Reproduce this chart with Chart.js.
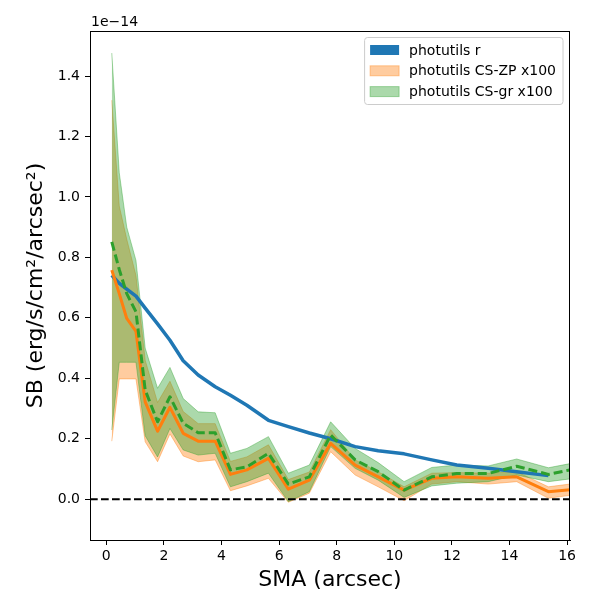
<!DOCTYPE html>
<html lang="en">
<head>
<meta charset="UTF-8">
<title>SB profile</title>
<script src="https://cdn.jsdelivr.net/npm/chart.js"></script>
<style>
  html, body { margin: 0; padding: 0; background: #fff; }
</style>
</head>
<body>
<canvas id="sbChart" width="600" height="600"></canvas>
<script>
// semi-major axis (arcsec)
const sma = [0.19, 0.45, 0.71, 1.03, 1.35, 1.78, 2.21, 2.67, 3.19, 3.78, 4.31, 4.88, 5.63,
             6.32, 7.05, 7.79, 8.64, 9.44, 10.34, 11.30, 12.17, 13.26, 14.25, 15.35, 16.5];

// surface brightness, units of 1e-14 erg/s/cm2/arcsec2
const sbR = [0.741, 0.714, 0.695, 0.672, 0.632, 0.580, 0.526, 0.458, 0.411, 0.372, 0.344, 0.311, 0.261,
             0.240, 0.219, 0.200, 0.174, 0.160, 0.150, 0.130, 0.113, 0.102, 0.091, 0.078, null];

const sbZP = [0.758, 0.680, 0.598, 0.555, 0.322, 0.225, 0.304, 0.218, 0.192, 0.192, 0.082, 0.097, 0.135,
              0.033, 0.063, 0.185, 0.113, 0.074, 0.030, 0.069, 0.074, 0.069, 0.074, 0.025, 0.035];
const sbZPhi = [1.32, 0.97, 0.86, 0.74, 0.46, 0.32, 0.39, 0.29, 0.25, 0.25, 0.125, 0.14, 0.18,
                0.065, 0.09, 0.23, 0.130, 0.091, 0.041, 0.086, 0.088, 0.086, 0.091, 0.041, 0.055];
const sbZPlo = [0.192, 0.398, 0.398, 0.398, 0.19, 0.124, 0.216, 0.143, 0.124, 0.130, 0.028, 0.044, 0.069,
                -0.010, 0.020, 0.157, 0.080, 0.041, -0.005, 0.050, 0.058, 0.050, 0.058, 0.003, 0.018];

const sbGR = [0.851, 0.76, 0.68, 0.62, 0.361, 0.256, 0.339, 0.251, 0.220, 0.220, 0.097, 0.107, 0.152,
              0.050, 0.074, 0.212, 0.130, 0.091, 0.030, 0.074, 0.085, 0.085, 0.109, 0.082, 0.105];
const sbGRhi = [1.476, 1.08, 0.90, 0.79, 0.50, 0.367, 0.436, 0.333, 0.289, 0.286, 0.152, 0.168, 0.207,
                0.086, 0.113, 0.256, 0.168, 0.121, 0.058, 0.105, 0.113, 0.110, 0.133, 0.104, 0.125];
const sbGRlo = [0.229, 0.453, 0.453, 0.453, 0.21, 0.14, 0.234, 0.163, 0.146, 0.152, 0.041, 0.058, 0.086,
                -0.008, 0.025, 0.174, 0.102, 0.063, 0.006, 0.044, 0.053, 0.058, 0.080, 0.058, 0.072];

const seriesNames = ['photutils r', 'photutils CS-ZP x100', 'photutils CS-gr x100'];
const xTicks = [0, 2, 4, 6, 8, 10, 12, 14, 16];
const yTicks = [0.0, 0.2, 0.4, 0.6, 0.8, 1.0, 1.2, 1.4];

const BLUE = '#1f77b4';
const ORANGE = '#ff7f0e';
const GREEN = '#2ca02c';
const ORANGE_A = 'rgba(255,127,14,0.4)';
const GREEN_A = 'rgba(44,160,44,0.4)';
const FONT = 'DejaVu Sans';

function pts(ys) {
    return sma.map((x, i) => ({ x: x, y: ys[i] }));
}

// frame, zero line and offset text like matplotlib
const axesDecor = {
    id: 'axesDecor',
    afterDatasetsDraw(chart) {
        const { ctx, chartArea: a, scales } = chart;
        const y0 = scales.y.getPixelForValue(0);
        ctx.save();
        ctx.beginPath();
        ctx.rect(a.left, a.top, a.right - a.left, a.bottom - a.top);
        ctx.clip();
        ctx.strokeStyle = '#000';
        ctx.lineWidth = 2;
        ctx.setLineDash([7.7, 3.3]);
        ctx.beginPath();
        ctx.moveTo(a.left, y0);
        ctx.lineTo(a.right, y0);
        ctx.stroke();
        ctx.restore();
    },
    afterDraw(chart) {
        const { ctx, chartArea: a } = chart;
        ctx.save();
        ctx.strokeStyle = '#000';
        ctx.lineWidth = 1;
        ctx.strokeRect(a.left + 0.5, a.top + 0.5, a.right - a.left - 1, a.bottom - a.top);
        ctx.fillStyle = '#000';
        ctx.font = '14px "' + FONT + '"';
        ctx.textBaseline = 'alphabetic';
        ctx.textAlign = 'left';
        ctx.fillText('1e\u221214', a.left + 1, a.top - 5);
        ctx.restore();
    }
};

// legend box in the upper right corner
const boxLegend = {
    id: 'boxLegend',
    afterDraw(chart) {
        const { ctx, chartArea: a } = chart;
        const colors = [BLUE, ORANGE_A, GREEN_A];
        ctx.save();
        ctx.font = '14px "' + FONT + '"';
        const textW = Math.max(...seriesNames.map(s => ctx.measureText(s).width));
        const w = 5.5 + 29 + 10 + textW + 7;
        const h = 67;
        const x = a.right - 7 - w;
        const y = a.top + 6.5;
        ctx.beginPath();
        ctx.roundRect(x, y, w, h, 3);
        ctx.fillStyle = 'rgba(255,255,255,0.8)';
        ctx.fill();
        ctx.strokeStyle = '#cccccc';
        ctx.lineWidth = 1;
        ctx.stroke();
        seriesNames.forEach((name, i) => {
            const cy = y + 12.5 + i * 20.8;
            ctx.fillStyle = colors[i];
            ctx.fillRect(x + 5.5, cy - 5, 29, 10);
            if (i > 0) {
                ctx.strokeStyle = colors[i];
                ctx.strokeRect(x + 5.5, cy - 5, 29, 10);
            }
            ctx.fillStyle = '#000';
            ctx.textBaseline = 'middle';
            ctx.fillText(name, x + 5.5 + 29 + 10, cy + 1);
        });
        ctx.restore();
    }
};

const axisGrid = {
    display: true,
    drawOnChartArea: false,
    drawTicks: true,
    tickLength: 5,
    color: '#000',
    lineWidth: 1
};

const ctx = document.getElementById('sbChart').getContext('2d');
new Chart(ctx, {
    type: 'line',
    data: {
        datasets: [
            { label: seriesNames[2], data: pts(sbGR), borderColor: GREEN, borderWidth: 3,
              borderDash: [9, 4], borderCapStyle: 'butt', order: 1 },
            { label: seriesNames[1], data: pts(sbZP), borderColor: ORANGE, borderWidth: 3, order: 2 },
            { label: seriesNames[0], data: pts(sbR), borderColor: BLUE, borderWidth: 3.5, order: 3 },
            { label: 'gr hi', data: pts(sbGRhi), borderColor: GREEN_A, backgroundColor: GREEN_A,
              borderWidth: 1, fill: { target: 4 }, order: 4 },
            { label: 'gr lo', data: pts(sbGRlo), borderColor: GREEN_A, borderWidth: 1, fill: false, order: 4 },
            { label: 'zp hi', data: pts(sbZPhi), borderColor: ORANGE_A, backgroundColor: ORANGE_A,
              borderWidth: 1, fill: { target: 6 }, order: 5 },
            { label: 'zp lo', data: pts(sbZPlo), borderColor: ORANGE_A, borderWidth: 1, fill: false, order: 5 }
        ]
    },
    options: {
        responsive: false,
        animation: false,
        devicePixelRatio: 1,
        layout: { padding: { top: 31, right: 30, left: 0, bottom: 0 } },
        elements: {
            point: { radius: 0 },
            line: { tension: 0, borderJoinStyle: 'round' }
        },
        plugins: {
            legend: { display: false },
            tooltip: { enabled: false }
        },
        scales: {
            x: {
                type: 'linear',
                min: -0.566,
                max: 16.1,
                grid: axisGrid,
                border: { display: true, color: '#000', width: 1 },
                afterBuildTicks: s => { s.ticks = xTicks.map(v => ({ value: v })); },
                afterFit: s => { s.height = 60; },
                ticks: {
                    font: { family: FONT, size: 14 },
                    color: '#000',
                    padding: 3,
                    maxRotation: 0,
                    callback: v => String(v)
                },
                title: {
                    display: true,
                    text: 'SMA (arcsec)',
                    font: { family: FONT, size: 22 },
                    color: '#000',
                    padding: { top: 0, bottom: 7 }
                }
            },
            y: {
                type: 'linear',
                min: -0.135,
                max: 1.549,
                grid: axisGrid,
                border: { display: true, color: '#000', width: 1 },
                afterBuildTicks: s => { s.ticks = yTicks.map(v => ({ value: v })); },
                afterFit: s => { s.width = 90; },
                ticks: {
                    font: { family: FONT, size: 14 },
                    color: '#000',
                    padding: 5,
                    callback: v => v.toFixed(1)
                },
                title: {
                    display: true,
                    text: 'SB (erg/s/cm\u00b2/arcsec\u00b2)',
                    font: { family: FONT, size: 22 },
                    color: '#000',
                    padding: { top: 23, bottom: 0 }
                }
            }
        }
    },
    plugins: [axesDecor, boxLegend]
});
</script>
</body>
</html>
